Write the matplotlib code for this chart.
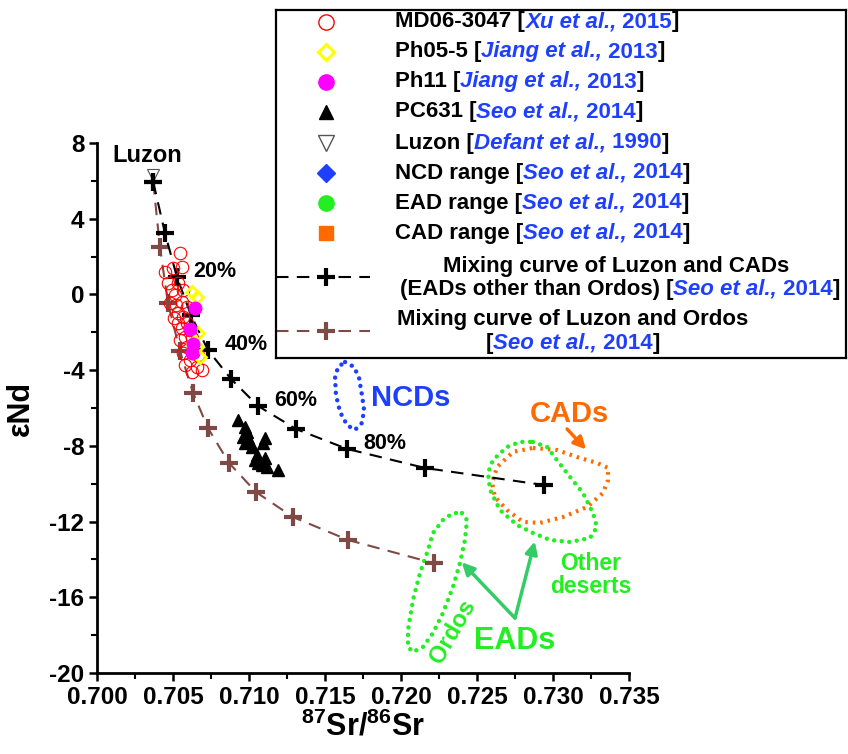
import matplotlib.pyplot as plt
from matplotlib.ticker import MultipleLocator

plt.rcParams['font.family'] = ['Liberation Sans', 'DejaVu Sans']
plt.rcParams['font.weight'] = 'bold'
plt.rcParams['axes.labelweight'] = 'bold'
plt.rcParams['axes.unicode_minus'] = False
plt.rcParams['mathtext.fontset'] = 'custom'
plt.rcParams['mathtext.rm'] = 'Liberation Sans:bold'
plt.rcParams['mathtext.bf'] = 'Liberation Sans:bold'
plt.rcParams['mathtext.default'] = 'bf'

# --- data ---
# MD06-3047 (Xu et al., 2015)
md06_sr = [0.70546, 0.70500, 0.70559, 0.70447, 0.70467, 0.70533, 0.70566, 0.70513,
           0.70559, 0.70480, 0.70592, 0.70533, 0.70566, 0.70592, 0.70533, 0.70559,
           0.70612, 0.70579, 0.70546, 0.70625, 0.70592, 0.70566, 0.70632, 0.70612,
           0.70579, 0.70658, 0.70625, 0.70691, 0.70664, 0.70493, 0.70520, 0.70507]
md06_nd = [2.19, 1.40, 1.45, 1.19, 0.60, 0.60, 0.23, -0.03,
           -0.40, -0.45, -0.66, -0.98, -1.19, -1.51, -1.51, -1.77,
           -1.88, -2.25, -2.41, -2.30, -2.78, -3.09, -3.09, -3.46,
           -3.73, -3.83, -4.10, -3.99, -3.20, 0.23, -0.56, -1.24]
# Ph05-5 (Jiang et al., 2013)
ph05_sr = [0.70625, 0.70658, 0.70664, 0.70632, 0.70658, 0.70678]
ph05_nd = [0.13, -0.14, -2.04, -2.57, -2.78, -3.30]
# Ph11 (Jiang et al., 2013)
ph11_sr = [0.70645, 0.70612, 0.70632, 0.70625]
ph11_nd = [-0.72, -1.80, -2.60, -3.10]
# PC631 (Seo et al., 2014)
pc631_sr = [0.70928, 0.70974, 0.70987, 0.70961, 0.70993, 0.70974, 0.71007, 0.71105, 0.71092,
            0.71020, 0.71053, 0.71105, 0.71039, 0.71059, 0.71086, 0.71118, 0.71191]
pc631_nd = [-6.63, -7.00, -7.27, -7.53, -7.58, -7.85, -7.80, -7.58, -7.85,
            -8.06, -8.48, -8.64, -8.75, -8.90, -9.01, -9.12, -9.27]
# Luzon (Defant et al., 1990)
luzon_sr = [0.7037]
luzon_nd = [6.3]

# mixing curves, 0..100 % in 10 % steps
mix_cad_sr = [0.7037, 0.70447, 0.70526, 0.70618, 0.70730, 0.70882, 0.71059, 0.71309,
              0.71645, 0.72158, 0.72941]
mix_cad_nd = [5.94, 3.25, 0.92, -1.09, -2.94, -4.47, -5.89, -7.11, -8.16, -9.17, -10.07]
mix_ord_sr = [0.7037, 0.70414, 0.70467, 0.70546, 0.70632, 0.70730, 0.70868, 0.71046,
              0.71289, 0.71651, 0.72217]
mix_ord_nd = [5.94, 2.50, -0.45, -3.00, -5.20, -7.06, -8.90, -10.44, -11.76, -12.97, -14.20]
mix_labels = ['20%', '40%', '60%', '80%']
mix_label_idx = [2, 4, 6, 8]

# source ranges (outlines)
ncd_sr = [0.71632, 0.71691, 0.71724, 0.71743, 0.71757, 0.71743, 0.71697, 0.71645,
          0.71599, 0.71572, 0.71566, 0.71586, 0.71632]
ncd_nd = [-3.57, -3.83, -4.41, -5.31, -6.10, -6.79, -7.16, -6.90,
          -6.21, -5.31, -4.41, -3.83, -3.57]
cad_sr = [0.72868, 0.73026, 0.73158, 0.73289, 0.73362, 0.73362, 0.73329, 0.73224,
          0.73066, 0.72914, 0.72803, 0.72697, 0.72618, 0.72599, 0.72632, 0.72737, 0.72868]
cad_nd = [-8.11, -8.22, -8.59, -8.90, -9.17, -9.80, -10.49, -11.23,
          -11.76, -12.07, -12.02, -11.39, -10.70, -9.96, -9.12, -8.32, -8.11]
ead_sr = [0.72868, 0.72961, 0.73026, 0.73112, 0.73197, 0.73263, 0.73289, 0.73243, 0.73112,
          0.72980, 0.72868, 0.72763, 0.72651, 0.72586, 0.72572, 0.72605, 0.72697, 0.72783,
          0.72868]
ead_nd = [-7.79, -8.06, -8.75, -9.64, -10.49, -11.55, -12.29, -12.87, -13.08,
          -12.97, -12.60, -12.18, -11.39, -10.33, -9.43, -8.75, -8.06, -7.79, -7.79]
ordos_sr = [0.72401, 0.72434, 0.72421, 0.72388, 0.72342, 0.72276, 0.72211, 0.72145, 0.72079,
            0.72046, 0.72046, 0.72079, 0.72125, 0.72171, 0.72211, 0.72276, 0.72342, 0.72401]
ordos_nd = [-11.55, -11.92, -12.97, -14.19, -15.45, -16.83, -17.88, -18.62, -18.89,
            -18.62, -17.73, -16.14, -14.72, -13.66, -12.60, -11.92, -11.55, -11.55]

BLUE = '#1f3fff'
GREEN = '#22ee22'
ORANGE = '#ff6a00'
BROWN = '#7f4a45'
ARROW_GREEN = '#33cc66'

fig = plt.figure(figsize=(8.48, 7.54), dpi=100)
ax = fig.add_axes([97 / 848, 81 / 754, 532 / 848, 530 / 754])

# range outlines (dotted)
dot = dict(linestyle=(0, (0.01, 1.7)), dash_capstyle='round', linewidth=3.2)
ax.plot(ncd_sr, ncd_nd, color=BLUE, **dot)
ax.plot(cad_sr, cad_nd, color=ORANGE, linestyle=(0, (0.6, 1.2)), dash_capstyle='butt', linewidth=3.0)
ax.plot(ead_sr, ead_nd, color=GREEN, **dot)
ax.plot(ordos_sr, ordos_nd, color=GREEN, **dot)

# mixing curves
ax.plot(mix_ord_sr, mix_ord_nd, color=BROWN, lw=1.5, dashes=(6, 4), marker='+', ms=13, mew=3, zorder=3)
ax.plot(mix_cad_sr, mix_cad_nd, color='black', lw=1.5, dashes=(6, 4), marker='+', ms=13, mew=3, zorder=3)

# samples
ax.plot(md06_sr, md06_nd, 'o', mfc='none', mec='red', ms=9, mew=0.8, zorder=4)
ax.plot(ph05_sr, ph05_nd, 'D', mfc='none', mec='#ffff00', ms=6.5, mew=2, zorder=5)
ax.plot(ph11_sr, ph11_nd, 'o', color='#ff00ff', ms=9, zorder=5)
ax.plot(pc631_sr, pc631_nd, '^', color='black', ms=8, zorder=5)
ax.plot(luzon_sr, luzon_nd, 'v', mfc='white', mec='#555555', ms=9, mew=0.8, zorder=2)

# annotations
ax.annotate('Luzon', xy=(luzon_sr[0], luzon_nd[0]), xytext=(-4, 14), textcoords='offset points',
            ha='center', va='center', fontsize=17)
for lab, i in zip(mix_labels, mix_label_idx):
    ax.annotate(lab, xy=(mix_cad_sr[i], mix_cad_nd[i]), xytext=(12, 4), textcoords='offset points',
                ha='left', va='center', fontsize=15.5)
ax.text(0.7180, -5.45, 'NCDs', color=BLUE, fontsize=21, ha='left', va='center')
ax.text(0.7311, -6.3, 'CADs', color=ORANGE, fontsize=21, ha='center', va='center')
ax.annotate('', xy=(0.7323, -8.3), xytext=(0.7308, -7.0),
            arrowprops=dict(arrowstyle='-|>', color=ORANGE, lw=2.5, mutation_scale=18))
ax.text(0.7325, -14.8, 'Other\ndeserts', color=GREEN, fontsize=16.5, ha='center', va='center',
        linespacing=1.0)
ax.text(0.7275, -18.3, 'EADs', color=GREEN, fontsize=22, ha='center', va='center')
ax.text(0.7234, -17.8, 'Ordos', color=GREEN, fontsize=17, ha='center', va='center', rotation=60)
for head in [(0.7240, -14.15), (0.7288, -13.05)]:
    ax.annotate('', xy=head, xytext=(0.7275, -17.1),
                arrowprops=dict(arrowstyle='-|>', color=ARROW_GREEN, lw=2.5, mutation_scale=18,
                                shrinkA=0, shrinkB=0))

ax.set_xlim(0.700, 0.735)
ax.set_ylim(-20, 8)
ax.xaxis.set_major_locator(MultipleLocator(0.005))
ax.xaxis.set_minor_locator(MultipleLocator(0.0025))
ax.yaxis.set_major_locator(MultipleLocator(4))
ax.yaxis.set_minor_locator(MultipleLocator(2))
ax.xaxis.set_major_formatter(plt.FormatStrFormatter('%.3f'))
for s in ['top', 'right']:
    ax.spines[s].set_visible(False)
for s in ['left', 'bottom']:
    ax.spines[s].set_linewidth(2)
ax.tick_params(which='major', direction='out', length=6, width=1.8, labelsize=17.5, pad=3)
ax.tick_params(which='minor', direction='out', length=4, width=1.5)
plt.setp(ax.get_xticklabels() + ax.get_yticklabels(), fontweight='bold')
ax.set_xlabel(r'$^{87}$Sr/$^{86}$Sr', fontsize=22, fontweight='bold')
ax.set_ylabel('εNd', fontsize=22, fontweight='bold')
ax.xaxis.set_label_coords(0.5, -0.072)
ax.yaxis.set_label_coords(-0.115, 0.5)

# --- legend box drawn by hand (mixed-colour labels) ---
lax = fig.add_axes([276 / 848, 1 - 358 / 754, 570 / 848, 348 / 754])
lax.set_xlim(0, 1)
lax.set_ylim(0, 1)
lax.set_xticks([])
lax.set_yticks([])
for s in lax.spines.values():
    s.set_linewidth(1.6)

K = 'black'
entries = [
    (dict(marker='o', mfc='none', mec='red', ms=11, mew=1), [('MD06-3047 [', K, 'normal'), ('Xu et al.,', BLUE, 'italic'), (' 2015', BLUE, 'normal'), (']', K, 'normal')]),
    (dict(marker='D', mfc='none', mec='#ffff00', ms=8, mew=2.2), [('Ph05-5 [', K, 'normal'), ('Jiang et al.,', BLUE, 'italic'), (' 2013', BLUE, 'normal'), (']', K, 'normal')]),
    (dict(marker='o', color='#ff00ff', ms=11), [('Ph11 [', K, 'normal'), ('Jiang et al.,', BLUE, 'italic'), (' 2013', BLUE, 'normal'), (']', K, 'normal')]),
    (dict(marker='^', color='black', ms=10), [('PC631 [', K, 'normal'), ('Seo et al.,', BLUE, 'italic'), (' 2014', BLUE, 'normal'), (']', K, 'normal')]),
    (dict(marker='v', mfc='white', mec='#555555', ms=11, mew=1), [('Luzon [', K, 'normal'), ('Defant et al.,', BLUE, 'italic'), (' 1990', BLUE, 'normal'), (']', K, 'normal')]),
    (dict(marker='D', color=BLUE, ms=9), [('NCD range [', K, 'normal'), ('Seo et al.,', BLUE, 'italic'), (' 2014', BLUE, 'normal'), (']', K, 'normal')]),
    (dict(marker='o', color=GREEN, ms=11), [('EAD range [', K, 'normal'), ('Seo et al.,', BLUE, 'italic'), (' 2014', BLUE, 'normal'), (']', K, 'normal')]),
    (dict(marker='s', color=ORANGE, ms=10), [('CAD range [', K, 'normal'), ('Seo et al.,', BLUE, 'italic'), (' 2014', BLUE, 'normal'), (']', K, 'normal')]),
]

FS = 16
row_y = [22, 52, 82, 112, 143, 173, 203, 233]


def ly(py):
    return 1 - (py - 10) / 348


def rich(x, y, parts, ha='left'):
    first = prev = None
    for s, c, st in parts:
        kw = dict(color=c, fontstyle=st, fontsize=FS, fontweight='bold')
        if prev is None:
            prev = lax.text(x, y, s, va='center', ha='left', **kw)
            first = prev
        else:
            prev = lax.annotate(s, xy=(1, 0), xycoords=prev, va='bottom', ha='left', **kw)
    if ha == 'center':
        fig.canvas.draw()
        r = fig.canvas.get_renderer()
        w = (prev.get_window_extent(r).x1 - first.get_window_extent(r).x0) / lax.bbox.width
        first.set_x(x - w / 2)


mx = (326 - 276) / 570
tx = (395 - 276) / 570
for (mk, parts), py in zip(entries, row_y):
    lax.plot([mx], [ly(py)], linestyle='none', **mk)
    rich(tx, ly(py), parts)

# mixing curve entries
lax.plot([0, mx, 0.165], [ly(277)] * 3, color='black', lw=1.5, dashes=(6, 4), marker='+', ms=13, mew=3,
         markevery=[1])
rich((616 - 276) / 570, ly(266), [('Mixing curve of Luzon and CADs', K, 'normal')], ha='center')
rich((620 - 276) / 570, ly(289), [('(EADs other than Ordos) [', K, 'normal'), ('Seo et al.,', BLUE, 'italic'),
                                  (' 2014', BLUE, 'normal'), (']', K, 'normal')], ha='center')
lax.plot([0, mx, 0.165], [ly(331)] * 3, color=BROWN, lw=1.5, dashes=(6, 4), marker='+', ms=13, mew=3,
         markevery=[1])
rich((573 - 276) / 570, ly(319), [('Mixing curve of Luzon and Ordos', K, 'normal')], ha='center')
rich((573 - 276) / 570, ly(343), [('[', K, 'normal'), ('Seo et al.,', BLUE, 'italic'),
                                  (' 2014', BLUE, 'normal'), (']', K, 'normal')], ha='center')

fig.savefig('out.png', dpi=100)
